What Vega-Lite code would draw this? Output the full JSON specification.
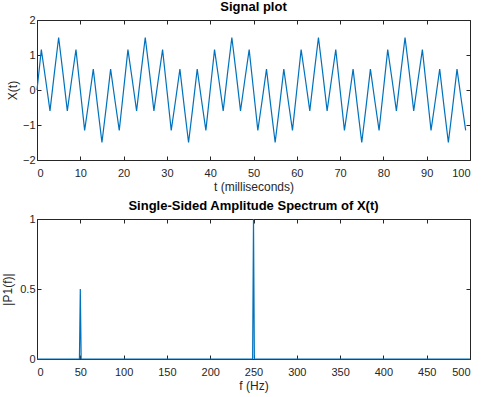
{
  "$schema": "https://vega.github.io/schema/vega-lite/v6.json",
  "background": "white",
  "padding": {"left": 0, "top": 0, "right": 5, "bottom": 5},
  "spacing": 59,
  "bounds": "flush",
  "config": {
    "font": "Liberation Sans",
    "view": {"stroke": "#262626", "strokeWidth": 1},
    "axis": {
      "grid": false,
      "domain": false,
      "tickColor": "#262626",
      "tickSize": -4,
      "labelColor": "#262626",
      "labelFontSize": 11,
      "titleFontSize": 12,
      "titleFontWeight": "normal",
      "titleColor": "#262626"
    },
    "axisX": {"labelPadding": 11, "titlePadding": 3},
    "axisY": {"labelPadding": 6},
    "title": {"fontSize": 13, "fontWeight": "bold", "color": "#000000", "offset": 0.001}
  },
  "datasets": {
    "signal": [
      {"t":0,"x":0},{"t":1,"x":1.1545},{"t":2,"x":0.2939},{"t":3,"x":-0.5955},{"t":4,"x":0.4755},{"t":5,"x":1.5},{"t":6,"x":0.4755},{"t":7,"x":-0.5955},{"t":8,"x":0.2939},{"t":9,"x":1.1545},
      {"t":10,"x":0},{"t":11,"x":-1.1545},{"t":12,"x":-0.2939},{"t":13,"x":0.5955},{"t":14,"x":-0.4755},{"t":15,"x":-1.5},{"t":16,"x":-0.4755},{"t":17,"x":0.5955},{"t":18,"x":-0.2939},{"t":19,"x":-1.1545},
      {"t":20,"x":0},{"t":21,"x":1.1545},{"t":22,"x":0.2939},{"t":23,"x":-0.5955},{"t":24,"x":0.4755},{"t":25,"x":1.5},{"t":26,"x":0.4755},{"t":27,"x":-0.5955},{"t":28,"x":0.2939},{"t":29,"x":1.1545},
      {"t":30,"x":0},{"t":31,"x":-1.1545},{"t":32,"x":-0.2939},{"t":33,"x":0.5955},{"t":34,"x":-0.4755},{"t":35,"x":-1.5},{"t":36,"x":-0.4755},{"t":37,"x":0.5955},{"t":38,"x":-0.2939},{"t":39,"x":-1.1545},
      {"t":40,"x":0},{"t":41,"x":1.1545},{"t":42,"x":0.2939},{"t":43,"x":-0.5955},{"t":44,"x":0.4755},{"t":45,"x":1.5},{"t":46,"x":0.4755},{"t":47,"x":-0.5955},{"t":48,"x":0.2939},{"t":49,"x":1.1545},
      {"t":50,"x":0},{"t":51,"x":-1.1545},{"t":52,"x":-0.2939},{"t":53,"x":0.5955},{"t":54,"x":-0.4755},{"t":55,"x":-1.5},{"t":56,"x":-0.4755},{"t":57,"x":0.5955},{"t":58,"x":-0.2939},{"t":59,"x":-1.1545},
      {"t":60,"x":0},{"t":61,"x":1.1545},{"t":62,"x":0.2939},{"t":63,"x":-0.5955},{"t":64,"x":0.4755},{"t":65,"x":1.5},{"t":66,"x":0.4755},{"t":67,"x":-0.5955},{"t":68,"x":0.2939},{"t":69,"x":1.1545},
      {"t":70,"x":0},{"t":71,"x":-1.1545},{"t":72,"x":-0.2939},{"t":73,"x":0.5955},{"t":74,"x":-0.4755},{"t":75,"x":-1.5},{"t":76,"x":-0.4755},{"t":77,"x":0.5955},{"t":78,"x":-0.2939},{"t":79,"x":-1.1545},
      {"t":80,"x":0},{"t":81,"x":1.1545},{"t":82,"x":0.2939},{"t":83,"x":-0.5955},{"t":84,"x":0.4755},{"t":85,"x":1.5},{"t":86,"x":0.4755},{"t":87,"x":-0.5955},{"t":88,"x":0.2939},{"t":89,"x":1.1545},
      {"t":90,"x":0},{"t":91,"x":-1.1545},{"t":92,"x":-0.2939},{"t":93,"x":0.5955},{"t":94,"x":-0.4755},{"t":95,"x":-1.5},{"t":96,"x":-0.4755},{"t":97,"x":0.5955},{"t":98,"x":-0.2939},{"t":99,"x":-1.1545}
    ],
    "spectrum": [
      {"f":0,"p":0},{"f":25,"p":0},{"f":48,"p":0},{"f":49,"p":0.0},{"f":50,"p":0.5},{"f":51,"p":0},{"f":52,"p":0},
      {"f":100,"p":0},{"f":150,"p":0},{"f":200,"p":0},{"f":248,"p":0},{"f":249,"p":0},{"f":250,"p":1},{"f":251,"p":0},{"f":252,"p":0},
      {"f":300,"p":0},{"f":350,"p":0},{"f":400,"p":0},{"f":450,"p":0},{"f":500,"p":0}
    ]
  },
  "vconcat": [
    {
      "width": 433,
      "height": 140,
      "title": "Signal plot",
      "data": {"name": "signal"},
      "layer": [
        {
          "mark": {"type": "line", "color": "#0072BD", "strokeWidth": 1.2},
          "encoding": {
            "x": {"field": "t", "type": "quantitative", "scale": {"domain": [0, 100], "nice": false}, "axis": {"title": "t (milliseconds)", "values": [0,10,20,30,40,50,60,70,80,90,100]}},
            "y": {"field": "x", "type": "quantitative", "scale": {"domain": [-2, 2], "nice": false}, "axis": {"title": "X(t)", "values": [-2,-1,0,1,2], "titleX": -18}}
          }
        },
        {
          "mark": {"type": "line", "opacity": 0},
          "encoding": {
            "x": {"field": "t", "type": "quantitative", "axis": {"orient": "top", "labels": false, "title": null, "values": [0,10,20,30,40,50,60,70,80,90,100]}},
            "y": {"field": "x", "type": "quantitative", "axis": {"orient": "right", "labels": false, "title": null, "values": [-2,-1,0,1,2]}}
          }
        }
      ],
      "resolve": {"axis": {"x": "independent", "y": "independent"}}
    },
    {
      "width": 433,
      "height": 140,
      "title": "Single-Sided Amplitude Spectrum of X(t)",
      "data": {"name": "spectrum"},
      "layer": [
        {
          "mark": {"type": "line", "color": "#0072BD", "strokeWidth": 1.2},
          "encoding": {
            "x": {"field": "f", "type": "quantitative", "scale": {"domain": [0, 500], "nice": false}, "axis": {"title": "f (Hz)", "values": [0,50,100,150,200,250,300,350,400,450,500]}},
            "y": {"field": "p", "type": "quantitative", "scale": {"domain": [0, 1], "nice": false}, "axis": {"title": "|P1(f)|", "values": [0,0.5,1], "format": "~g", "titleX": -23}}
          }
        },
        {
          "mark": {"type": "line", "opacity": 0},
          "encoding": {
            "x": {"field": "f", "type": "quantitative", "axis": {"orient": "top", "labels": false, "title": null, "values": [0,50,100,150,200,250,300,350,400,450,500]}},
            "y": {"field": "p", "type": "quantitative", "axis": {"orient": "right", "labels": false, "title": null, "values": [0,0.5,1]}}
          }
        }
      ],
      "resolve": {"axis": {"x": "independent", "y": "independent"}}
    }
  ]
}
